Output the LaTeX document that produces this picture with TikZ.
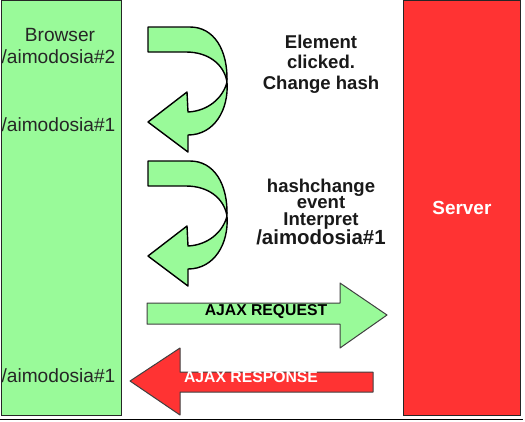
\documentclass[tikz,border=0pt]{standalone}
\usepackage{fontspec}
\setmainfont{Liberation Sans}

\definecolor{pagegreen}{RGB}{153,250,153}
\definecolor{serverred}{RGB}{255,51,51}

\tikzstyle{panel} = [draw=black!85, line width=0.8bp, inner sep=0, anchor=north west]
\tikzstyle{pagetext} = [font=\fontsize{19.2}{21}\selectfont, text=black!85, anchor=base]
\tikzstyle{hashnote} = [font=\bfseries\fontsize{18.6}{20.7}\selectfont, align=center, text=black!90]
\tikzstyle{ribbon} = [fill=pagegreen, draw=black, line width=1.4bp, line join=round]
\tikzstyle{ajaxtext} = [font=\bfseries\fontsize{15.8}{18}\selectfont]

\begin{document}
\begin{tikzpicture}[x=1bp, y=-1bp]
	\useasboundingbox (0,0) rectangle (525,421);
	\fill[white] (0,0) rectangle (525,421);

	% browser and server
	\node[panel, fill=pagegreen, minimum width=120bp, minimum height=415bp] (browser) at (1,0) {};
	\node[panel, fill=serverred, minimum width=117bp, minimum height=415bp, text=white,
		font=\bfseries\fontsize{19}{21}\selectfont] (server) at (403,0) {Server};
	\draw[line width=1.5bp] (0,419.5) -- (523,419.5);

	\node[pagetext] (browsername) at (60,41.5) {Browser};
	\node[pagetext] (hashtwo) at (58.5,63.3) {/aimodosia\#2};
	\node[pagetext] (hashone) at (58.5,131.7) {/aimodosia\#1};
	\node[pagetext] (hashback) at (58.5,382.7) {/aimodosia\#1};

	% curved arrows
	\foreach \dy in {0,134} {
		\draw[ribbon, shift={(0,\dy)}] (148,27) -- (190,27)
			.. controls (214,27) and (228,50) .. (227,82)
			.. controls (229,110) and (214,135) .. (188,135)
			-- (188,152) -- (148,122) -- (187,92) -- (188,112)
			.. controls (208,111) and (223,98) .. (227,82)
			.. controls (224,64) and (208,52) .. (186,52)
			-- (148,52) -- cycle;
	}

	\node[hashnote] (clicked) at (321,64) {Element\\clicked.\\Change hash};
	\node[hashnote, font=\bfseries\fontsize{18.6}{16.6}\selectfont] (hashchange) at (321,212)
		{hashchange\\event\\Interpret\\{\fontsize{20.5}{22}\selectfont/aimodosia\#1}};

	% ajax arrows
	\draw[fill=pagegreen, draw=black!75, line width=1bp, line join=round]
		(147,303) -- (340,303) -- (340,283) -- (387,315) -- (340,348) -- (340,324) -- (147,324) -- cycle;
	\draw[fill=serverred, draw=black!75, line width=1bp, line join=round]
		(373,372) -- (180,372) -- (180,348) -- (130,381) -- (180,415) -- (180,392) -- (373,392) -- cycle;

	\node[ajaxtext] (request) at (266,312) {AJAX REQUEST};
	\node[ajaxtext, text=white] (response) at (251,377) {AJAX RESPONSE};
\end{tikzpicture}
\end{document}
